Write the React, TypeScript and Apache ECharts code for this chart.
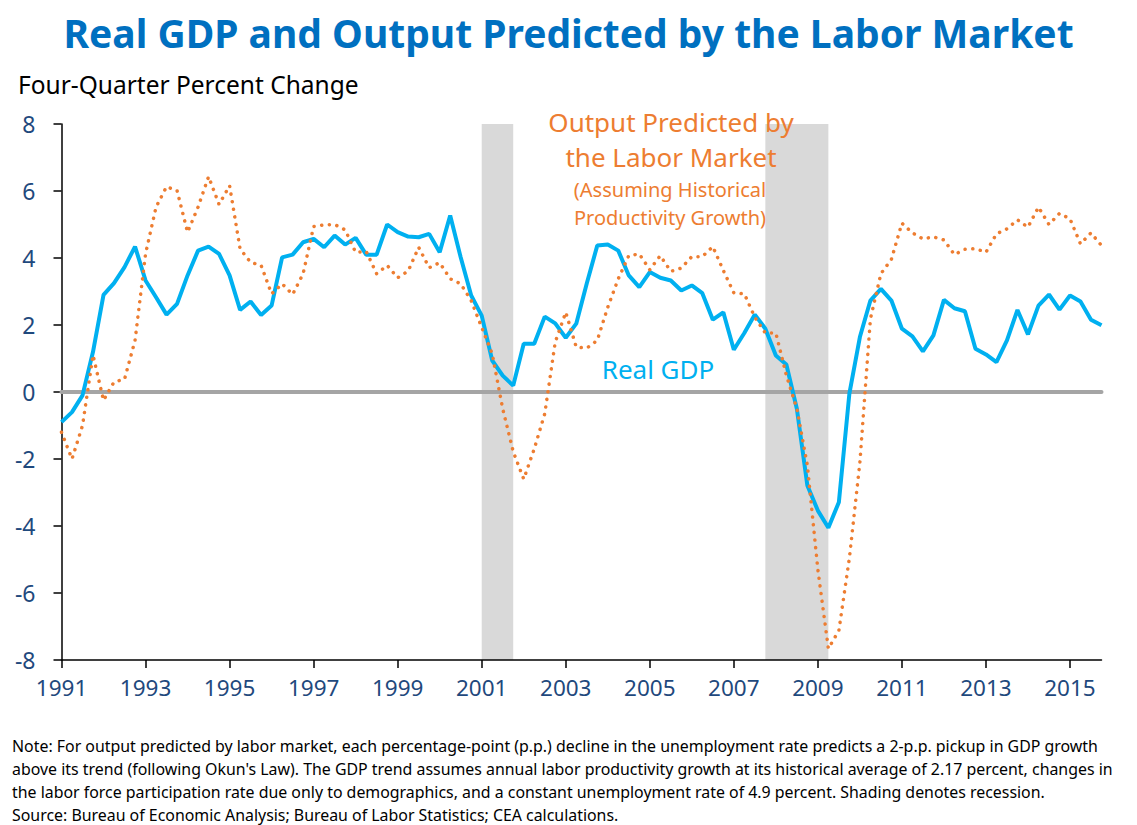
import { useEffect, useRef } from "react";
import * as echarts from "echarts";

// Quarterly categories, 1991 Q1 – 2015 Q4
const firstYear = 1991;
const lastYear = 2015;
const quarters: string[] = [];
for (let y = firstYear; y <= lastYear; y++) {
  for (let q = 1; q <= 4; q++) quarters.push(`${y} Q${q}`);
}

// Real GDP, four-quarter percent change
const realGDP = [
  -0.9, -0.6, -0.1, 1.2, 2.9, 3.25, 3.73, 4.34, 3.33, 2.83,
  2.31, 2.63, 3.48, 4.22, 4.34, 4.12, 3.48, 2.45, 2.7, 2.3,
  2.58, 4.02, 4.1, 4.47, 4.57, 4.32, 4.67, 4.4, 4.6, 4.1,
  4.1, 5.0, 4.77, 4.64, 4.62, 4.72, 4.17, 5.27, 4.02, 2.88,
  2.28, 0.94, 0.49, 0.19, 1.44, 1.44, 2.25, 2.05, 1.62, 2.04,
  3.24, 4.37, 4.4, 4.22, 3.48, 3.13, 3.58, 3.41, 3.33, 3.03,
  3.18, 2.95, 2.16, 2.38, 1.26, 1.76, 2.31, 1.89, 1.09, 0.82,
  -0.5, -2.79, -3.54, -4.05, -3.29, -0.05, 1.64, 2.73, 3.08, 2.73,
  1.89, 1.66, 1.21, 1.69, 2.75, 2.5, 2.41, 1.29, 1.12, 0.89,
  1.54, 2.45, 1.72, 2.58, 2.91, 2.46, 2.88, 2.7, 2.16, 1.99,
];

// Output predicted by the labor market
const laborMarketOutput = [
  -1.2, -2.0, -1.0, 1.1, -0.25, 0.3, 0.38, 1.54, 4.12, 5.52,
  6.13, 6.01, 4.77, 5.52, 6.43, 5.6, 6.16, 4.27, 3.87, 3.78,
  2.93, 3.23, 2.91, 3.53, 4.94, 4.99, 5.0, 4.84, 4.17, 4.2,
  3.53, 3.78, 3.41, 3.61, 4.32, 3.71, 3.86, 3.38, 3.23, 2.73,
  1.93, 1.14, -0.5, -1.78, -2.6, -1.7, -0.65, 1.49, 2.38, 1.34,
  1.31, 1.54, 2.53, 3.38, 4.07, 4.12, 3.65, 4.07, 3.6, 3.7,
  4.04, 4.04, 4.34, 3.63, 2.96, 2.93, 2.23, 1.76, 1.76, 0.5,
  -0.5, -2.19, -5.3, -7.66, -7.12, -4.96, -2.1, 2.18, 3.53, 3.96,
  5.04, 4.75, 4.57, 4.63, 4.54, 4.1, 4.26, 4.28, 4.17, 4.72,
  4.87, 5.14, 4.92, 5.52, 5.0, 5.33, 5.17, 4.42, 4.75, 4.37,
];

// Recession periods (start quarter, end quarter)
const recessions: [string, string][] = [
  ["2001 Q1", "2001 Q4"],
  ["2007 Q4", "2009 Q2"],
];

const yMin = -8;
const yMax = 8;
const yInterval = 2;

const titleText = "Real GDP and Output Predicted by the Labor Market";
const yAxisTitle = "Four-Quarter Percent Change";
const orangeLabel = ["Output Predicted by", "the Labor Market"];
const orangeSubLabel = ["(Assuming Historical", "Productivity Growth)"];
const blueLabel = "Real GDP";
const noteLines = [
  "Note: For output predicted by labor market, each percentage-point (p.p.) decline in the unemployment rate predicts a 2-p.p. pickup in GDP growth",
  "above its trend (following Okun's Law). The GDP trend assumes annual labor productivity growth at its historical average of 2.17 percent, changes in",
  "the labor force participation rate due only to demographics, and a constant unemployment rate of 4.9 percent. Shading denotes recession.",
  "Source: Bureau of Economic Analysis; Bureau of Labor Statistics; CEA calculations.",
];

const BLUE = "#00B0F0";
const ORANGE = "#ED7D31";
const NAVY = "#1F497D";
const FONT = "'Noto Sans', 'Open Sans', sans-serif";

export default function App() {
  const ref = useRef<HTMLDivElement>(null);

  useEffect(() => {
    if (!ref.current) return;
    const chart = echarts.init(ref.current, undefined, { renderer: "svg" });

    const graphics: any[] = [
      {
        type: "text",
        left: 18,
        top: 72,
        z: 10,
        style: { text: yAxisTitle, fill: "#000", font: `24.5px ${FONT}` },
      },
      ...orangeLabel.map((t, k) => ({
        type: "text",
        x: 671,
        y: 122 + k * 35,
        z: 10,
        style: {
          text: t,
          fill: ORANGE,
          font: `26px ${FONT}`,
          textAlign: "center",
          textVerticalAlign: "middle",
        },
      })),
      ...orangeSubLabel.map((t, k) => ({
        type: "text",
        x: 670,
        y: 189 + k * 28,
        z: 10,
        style: {
          text: t,
          fill: ORANGE,
          font: `20px ${FONT}`,
          textAlign: "center",
          textVerticalAlign: "middle",
        },
      })),
      {
        type: "text",
        x: 658,
        y: 369,
        z: 10,
        style: {
          text: blueLabel,
          fill: BLUE,
          font: `26px ${FONT}`,
          textAlign: "center",
          textVerticalAlign: "middle",
        },
      },
      ...noteLines.map((t, k) => ({
        type: "text",
        x: 12,
        y: 746 + k * 23,
        z: 10,
        style: {
          text: t,
          fill: "#000",
          font: `15.9px ${FONT}`,
          textVerticalAlign: "middle",
        },
      })),
    ];

    chart.setOption({
      animation: false,
      title: {
        text: titleText,
        left: "center",
        top: 8,
        textStyle: {
          color: "#0070C0",
          fontSize: 39,
          fontWeight: "bold",
          fontFamily: FONT,
        },
      },
      grid: { left: 61.5, right: 35.5, top: 124, bottom: 165 },
      xAxis: [
        {
          type: "category",
          data: quarters,
          boundaryGap: false,
          axisLine: { onZero: false, lineStyle: { color: "#000", width: 1.5 } },
          axisTick: { interval: 7, length: 8, lineStyle: { color: "#000", width: 1.5 } },
          axisLabel: {
            interval: 7,
            margin: 16,
            color: NAVY,
            fontSize: 22.5,
            fontFamily: FONT,
            formatter: (v: string) => v.slice(0, 4),
          },
          splitLine: { show: false },
          z: 2,
        },
        {
          type: "category",
          data: quarters,
          boundaryGap: false,
          position: "bottom",
          axisLine: {
            onZero: true,
            onZeroAxisIndex: 0,
            lineStyle: { color: "#A5A5A5", width: 4 },
          },
          axisTick: { show: false },
          axisLabel: { show: false },
          splitLine: { show: false },
          z: 2,
        },
      ],
      yAxis: {
        type: "value",
        min: yMin,
        max: yMax,
        interval: yInterval,
        axisLine: { show: true, lineStyle: { color: "#000", width: 1.5 } },
        axisTick: { show: true, length: 8, lineStyle: { color: "#000", width: 1.5 } },
        axisLabel: {
          margin: 26,
          color: NAVY,
          fontSize: 23,
          fontFamily: FONT,
        },
        splitLine: { show: false },
      },
      series: [
        {
          name: "Recession",
          type: "line",
          data: [],
          z: 1,
          silent: true,
          markArea: {
            silent: true,
            itemStyle: { color: "#D9D9D9" },
            data: recessions.map(([a, b]) => [{ xAxis: a }, { xAxis: b }]),
          },
        },
        {
          name: "Real GDP",
          type: "line",
          data: realGDP,
          showSymbol: false,
          z: 3,
          lineStyle: { color: BLUE, width: 4 },
          itemStyle: { color: BLUE },
        },
        {
          name: "Output Predicted by the Labor Market",
          type: "line",
          data: laborMarketOutput,
          showSymbol: false,
          z: 4,
          lineStyle: {
            color: ORANGE,
            width: 3.5,
            type: [0.1, 7.6],
            cap: "round",
          },
          itemStyle: { color: ORANGE },
        },
      ],
      graphic: graphics,
    });

    return () => chart.dispose();
  }, []);

  return (
    <div
      ref={ref}
      style={{ position: "absolute", left: 0, top: 0, width: 1137, height: 825, background: "#fff" }}
    />
  );
}
